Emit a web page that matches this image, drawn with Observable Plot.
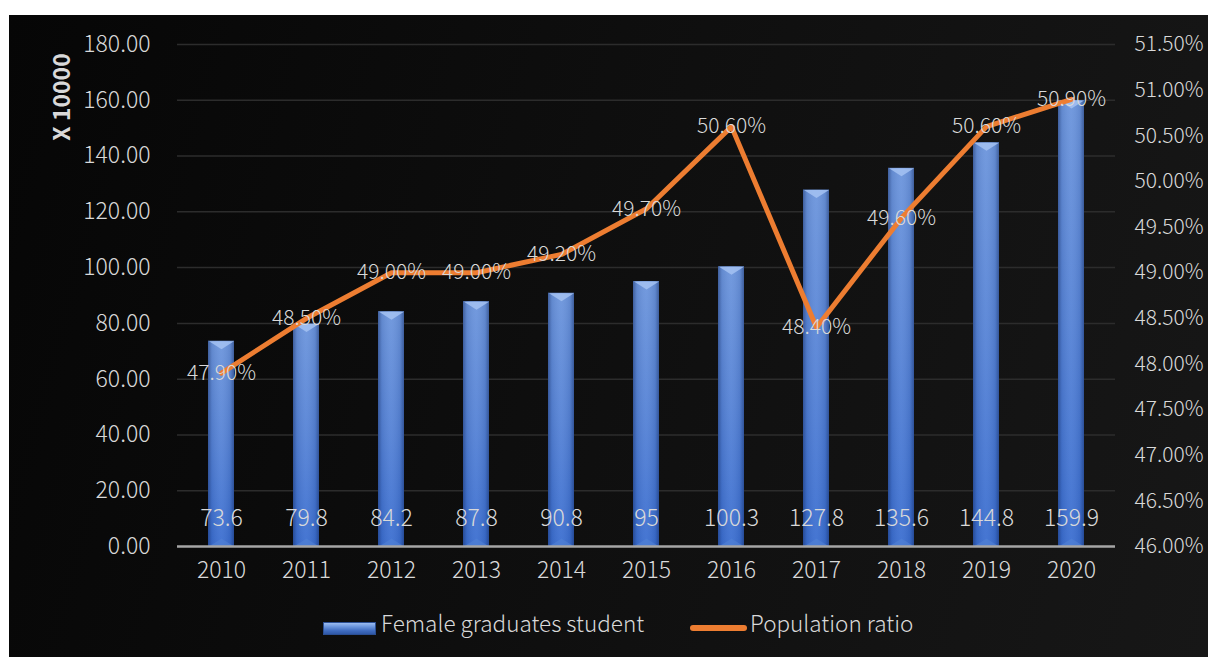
<!DOCTYPE html>
<html>
<head>
<meta charset="utf-8">
<script src="https://cdn.jsdelivr.net/npm/d3@7"></script>
<script src="https://cdn.jsdelivr.net/npm/@observablehq/plot@0.6"></script>
<style>
  html, body { margin: 0; padding: 0; background: #ffffff; }
  #panel {
    position: absolute; left: 9px; top: 15px; width: 1199px; height: 642px;
    background: linear-gradient(105deg, #060606 0%, #0e0e0e 45%, #171717 100%);
    overflow: hidden;
    font-family: "Noto Sans CJK SC", "Noto Sans", sans-serif;
  }
  #chart { position: absolute; left: 0; top: 0; }
  .leg { position: absolute; color: #d9d9d9; font-size: 22.5px; font-weight: 300; line-height: 26px; white-space: nowrap; }
  .sw-bar { position: absolute; left: 314px; top: 607px; width: 53px; height: 13px;
    background: linear-gradient(180deg, #9cbcf0 0%, #6f99e0 30%, #3f6cc0 70%, #2f58a8 100%);
    border: 1px solid #2b4f94; box-sizing: border-box; }
  .sw-line { position: absolute; left: 681px; top: 610px; width: 57px; height: 6px; background: #ed7d31; border-radius: 3px; }
  #ytitle { position: absolute; left: 51px; top: 82px; transform: translate(-50%, -50%) rotate(-90deg);
    color: #d9d9d9; font-size: 23px; font-weight: bold; white-space: nowrap; line-height: 26px; }
</style>
</head>
<body>
<div id="panel">
  <div id="chart"></div>
  <div id="ytitle"></div>
  <div class="sw-bar"></div>
  <div class="leg" style="left:372px; top:594px;">Female graduates student</div>
  <div class="sw-line"></div>
  <div class="leg" style="left:741px; top:594px;">Population ratio</div>
</div>
<script>
// ---- data ----
const years = ["2010","2011","2012","2013","2014","2015","2016","2017","2018","2019","2020"];
const graduates = [73.6, 79.8, 84.2, 87.8, 90.8, 95, 100.3, 127.8, 135.6, 144.8, 159.9];
const ratio = [47.9, 48.5, 49.0, 49.0, 49.2, 49.7, 50.6, 48.4, 49.6, 50.6, 50.9];
const leftTicks = [0, 20, 40, 60, 80, 100, 120, 140, 160, 180];
const rightTicks = [46.0, 46.5, 47.0, 47.5, 48.0, 48.5, 49.0, 49.5, 50.0, 50.5, 51.0, 51.5];
const yTitle = "X 10000";

document.getElementById("ytitle").textContent = yTitle;

// secondary axis mapping: right domain [46, 51.5] onto left domain [0, 180]
const rMin = 46, rMax = 51.5, lMax = 180;
const toLeft = p => (p - rMin) / (rMax - rMin) * lMax;

const rows = years.map((y, i) => ({year: y, value: graduates[i], ratio: ratio[i], ratioL: toLeft(ratio[i])}));

const textColor = "#d9d9d9";

// bevel shapes for bar tops / bases
const bevelTop = {
  draw(ctx) { ctx.moveTo(-12.5, 0); ctx.lineTo(12.5, 0); ctx.lineTo(0, 8); ctx.closePath(); }
};
const bevelBottom = {
  draw(ctx) { ctx.moveTo(-12.5, 0); ctx.lineTo(12.5, 0); ctx.lineTo(0, -8); ctx.closePath(); }
};

const chart = Plot.plot({
  width: 1199,
  height: 590,
  marginLeft: 168,
  marginRight: 93,
  marginTop: 29,
  marginBottom: 59,
  style: {background: "transparent", fontFamily: "'Noto Sans CJK SC', 'Noto Sans', sans-serif", fontSize: "23px", fontWeight: 300, color: textColor},
  x: {domain: years, paddingInner: 0.7, paddingOuter: 0.35, label: null},
  y: {domain: [0, lMax], label: null},
  marks: [
    Plot.gridY(leftTicks.filter(d => d > 0), {stroke: "#2c2c2c", strokeOpacity: 1, strokeWidth: 1.5}),
    Plot.barY(rows, {x: "year", y: "value", fill: "url(#barGradV)"}),
    Plot.barY(rows, {x: "year", y: "value", fill: "url(#barGradH)"}),
    Plot.vector(rows, {x: "year", y: "value", shape: bevelTop, length: 8, anchor: "start", fill: "#a4c2f2", stroke: "none", fillOpacity: 0.85}),
    Plot.vector(rows, {x: "year", y: 0, shape: bevelBottom, length: 8, anchor: "start", fill: "#5282d6", stroke: "none", fillOpacity: 0.6}),
    Plot.ruleY([0], {stroke: "#a6a6a6", strokeWidth: 2.5}),
    Plot.axisY(leftTicks, {anchor: "left", tickSize: 0, tickPadding: 27, tickFormat: d => d.toFixed(2), fill: textColor, fontSize: 23}),
    Plot.axisY(rightTicks.map(toLeft), {anchor: "right", tickSize: 0, tickPadding: 19, textAnchor: "start",
      tickFormat: (d, i) => rightTicks[i].toFixed(2) + "%", fill: textColor, fontSize: 21}),
    Plot.axisX(years, {anchor: "bottom", tickSize: 0, tickPadding: 15, fill: textColor, fontSize: 23}),
    Plot.text(rows, {x: "year", y: 0, text: d => String(d.value), dy: -28, fill: textColor, fontSize: 23}),
    Plot.line(rows, {x: "year", y: "ratioL", stroke: "#ed7d31", strokeWidth: 5, curve: "linear", strokeLinecap: "round", strokeLinejoin: "round"}),
    Plot.text(rows, {x: "year", y: "ratioL", text: d => d.ratio.toFixed(2) + "%", fill: textColor, fontSize: 21})
  ]
});

const svg = d3.select(chart);
const defs = svg.insert("defs", ":first-child");
const gv = defs.append("linearGradient").attr("id", "barGradV").attr("x1", "0").attr("x2", "0").attr("y1", "0").attr("y2", "1");
gv.append("stop").attr("offset", "0%").attr("stop-color", "#6c95dc");
gv.append("stop").attr("offset", "50%").attr("stop-color", "#5683d6");
gv.append("stop").attr("offset", "100%").attr("stop-color", "#3b6ed0");
const gh = defs.append("linearGradient").attr("id", "barGradH").attr("x1", "0").attr("x2", "1").attr("y1", "0").attr("y2", "0");
gh.append("stop").attr("offset", "0%").attr("stop-color", "#0a1e50").attr("stop-opacity", 0.45);
gh.append("stop").attr("offset", "15%").attr("stop-color", "#0a1e50").attr("stop-opacity", 0.1);
gh.append("stop").attr("offset", "50%").attr("stop-color", "#ffffff").attr("stop-opacity", 0.05);
gh.append("stop").attr("offset", "85%").attr("stop-color", "#0a1e50").attr("stop-opacity", 0.1);
gh.append("stop").attr("offset", "100%").attr("stop-color", "#0a1e50").attr("stop-opacity", 0.45);

document.getElementById("chart").appendChild(chart);
</script>
</body>
</html>
